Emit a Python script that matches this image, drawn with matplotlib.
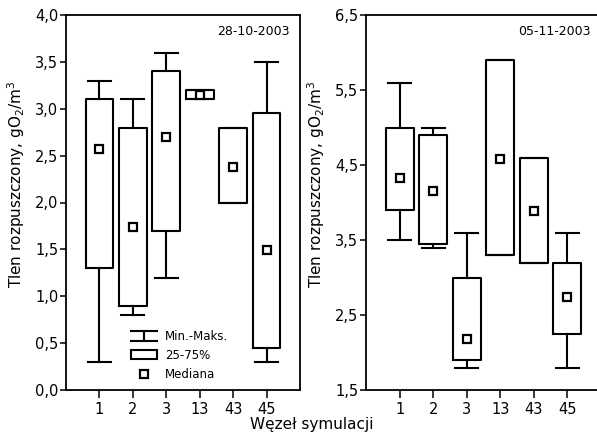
import matplotlib
matplotlib.use("Agg")
import matplotlib.pyplot as plt
from matplotlib.lines import Line2D
from matplotlib.patches import Rectangle
from matplotlib.legend_handler import HandlerBase
from matplotlib.ticker import FuncFormatter, FixedLocator

plt.rcParams['font.family'] = ['DejaVu Sans']

nodes = ["1", "2", "3", "13", "43", "45"]

# Panel 1: 28-10-2003
p1_min = [0.3, 0.8, 1.2, 3.1, 2.0, 0.3]
p1_q1 = [1.3, 0.9, 1.7, 3.1, 2.0, 0.45]
p1_med = [2.57, 1.74, 2.7, 3.15, 2.38, 1.49]
p1_q3 = [3.1, 2.8, 3.4, 3.2, 2.8, 2.95]
p1_max = [3.3, 3.1, 3.6, 3.2, 2.8, 3.5]

# Panel 2: 05-11-2003
p2_min = [3.5, 3.4, 1.8, 3.3, 3.2, 1.8]
p2_q1 = [3.9, 3.45, 1.9, 3.3, 3.2, 2.25]
p2_med = [4.33, 4.16, 2.18, 4.58, 3.89, 2.74]
p2_q3 = [5.0, 4.9, 3.0, 5.9, 4.6, 3.2]
p2_max = [5.6, 5.0, 3.6, 5.9, 4.6, 3.6]

p1_yticks = [0.0, 0.5, 1.0, 1.5, 2.0, 2.5, 3.0, 3.5, 4.0]
p2_yticks = [1.5, 2.5, 3.5, 4.5, 5.5, 6.5]

dates = ["28-10-2003", "05-11-2003"]
ylabel = "Tlen rozpuszczony, gO$_2$/m$^3$"
xlabel = "Węzeł symulacji"
legend_labels = ["Min.-Maks.", "25-75%", "Mediana"]

W, H = 597, 437
fig = plt.figure(figsize=(W / 100, H / 100), dpi=100)

def px_axes(left, top, right, bottom):
    return fig.add_axes([left / W, (H - bottom) / H, (right - left) / W, (bottom - top) / H])

ax1 = px_axes(66, 15, 300, 390)
ax2 = px_axes(366, 15, 601, 390)

LW = 1.5
comma = FuncFormatter(lambda v, p: f"{v:.1f}".replace('.', ','))

def draw(ax, mn, q1, med, q3, mx, ylim, yticks, date):
    stats = []
    for i in range(len(nodes)):
        stats.append(dict(med=med[i], q1=q1[i], q3=q3[i], whislo=mn[i], whishi=mx[i],
                          mean=med[i], fliers=[]))
    pos = list(range(len(nodes)))
    ax.bxp(stats, positions=pos, widths=0.83, capwidths=0.68, showmeans=True,
           showfliers=False, manage_ticks=False,
           boxprops=dict(color='black', linewidth=LW),
           whiskerprops=dict(color='black', linewidth=LW),
           capprops=dict(color='black', linewidth=LW),
           medianprops=dict(visible=False),
           meanprops=dict(marker='s', markerfacecolor='white', markeredgecolor='black',
                          markersize=5.5, markeredgewidth=1.6, linestyle='none'))
    ax.set_xlim(-1, 6)
    ax.set_ylim(*ylim)
    ax.xaxis.set_major_locator(FixedLocator(pos))
    ax.set_xticklabels(nodes)
    ax.yaxis.set_major_locator(FixedLocator(yticks))
    ax.yaxis.set_major_formatter(comma)
    ax.tick_params(axis='y', direction='out', length=4, width=1.1, pad=1.5, labelsize=10.5)
    ax.tick_params(axis='x', direction='out', length=6, width=1.1, pad=3, labelsize=10.5)
    for s in ax.spines.values():
        s.set_linewidth(1.3)
    ax.text(0.955, 0.955, date, transform=ax.transAxes, ha='right', va='center', fontsize=9)
    ax.set_ylabel(ylabel, fontsize=11)

draw(ax1, p1_min, p1_q1, p1_med, p1_q3, p1_max, (0, 4.0), p1_yticks, dates[0])
draw(ax2, p2_min, p2_q1, p2_med, p2_q3, p2_max, (1.5, 6.5), p2_yticks, dates[1])
ax1.yaxis.set_label_coords((27 - 66) / 234, 0.55)
ax2.yaxis.set_label_coords((327 - 366) / 235, 0.55)

fig.text(312 / W, 1 - 425 / H, xlabel, ha='center', va='center', fontsize=11)


class HandlerMinMax(HandlerBase):
    def create_artists(self, legend, orig_handle, xdescent, ydescent, width, height, fontsize, trans):
        x0, x1 = -xdescent, -xdescent + width
        y0, y1 = -ydescent - 0.05 * height, -ydescent + 1.05 * height
        xm = (x0 + x1) / 2
        arts = [Line2D([x0, x1], [y1, y1], color='black', lw=LW),
                Line2D([x0, x1], [y0, y0], color='black', lw=LW),
                Line2D([xm, xm], [y0, y1], color='black', lw=LW)]
        for a in arts:
            a.set_transform(trans)
        return arts


h_mm = Line2D([], [], color='black')
h_box = Rectangle((0, 0), 1, 1, facecolor='white', edgecolor='black', linewidth=LW)
h_med = Line2D([], [], marker='s', linestyle='none', markerfacecolor='white',
               markeredgecolor='black', markersize=5.5, markeredgewidth=1.6)
ax1.legend([h_mm, h_box, h_med], legend_labels, handler_map={h_mm: HandlerMinMax()},
           loc='lower left', bbox_to_anchor=((131 - 66) / 234, (390 - 381) / 375),
           frameon=False, borderpad=0, borderaxespad=0, fontsize=8.5,
           labelspacing=0.52, handlelength=2.2, handletextpad=0.68, handleheight=0.8)

fig.savefig("out.png", dpi=100)
